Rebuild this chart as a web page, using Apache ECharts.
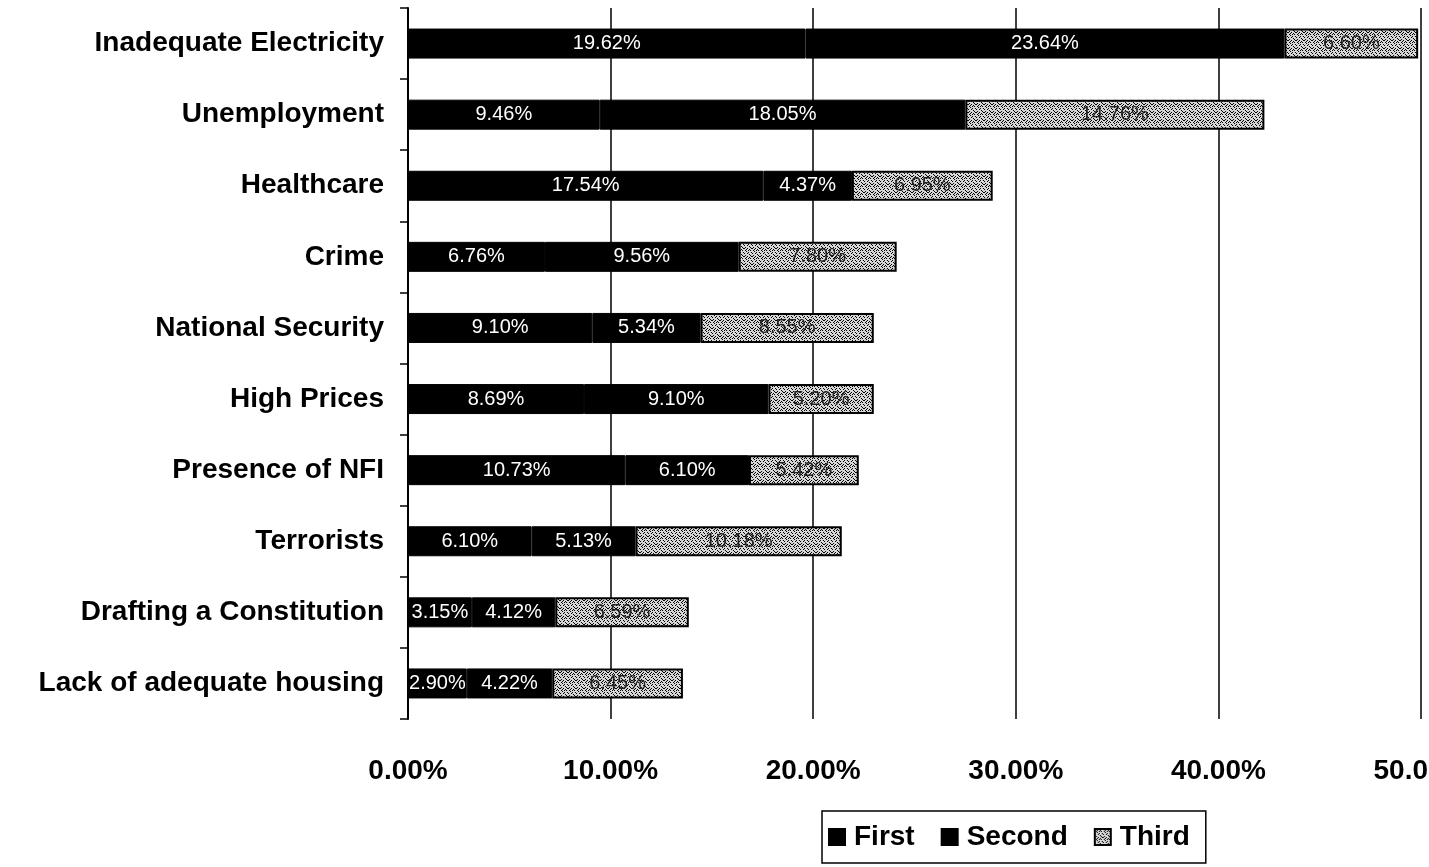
<!DOCTYPE html>
<html>
<head>
<meta charset="utf-8">
<script src="https://cdn.jsdelivr.net/npm/echarts@6/dist/echarts.min.js"></script>
<style>
html,body{margin:0;padding:0;background:#fff;}
#chart{width:1429px;height:867px;}
</style>
</head>
<body>
<div id="chart"></div>
<script>
// ---- data ----
var categories = ["Inadequate Electricity","Unemployment","Healthcare","Crime","National Security","High Prices","Presence of NFI","Terrorists","Drafting a Constitution","Lack of adequate housing"];
var firstValues  = [19.62, 9.46, 17.54, 6.76, 9.10, 8.69, 10.73, 6.10, 3.15, 2.90];
var secondValues = [23.64, 18.05, 4.37, 9.56, 5.34, 9.10, 6.10, 5.13, 4.12, 4.22];
var thirdValues  = [6.60, 14.76, 6.95, 7.80, 8.55, 5.20, 5.42, 10.18, 6.59, 6.45];
var xTicks = [0, 10, 20, 30, 40, 50];
var seriesNames = ["First", "Second", "Third"];

// speckled texture for the third series (fixed pattern)
var pat = document.createElement('canvas');
pat.width = 8; pat.height = 8;
var pctx = pat.getContext('2d');
pctx.fillStyle = '#d6d6d6';
pctx.fillRect(0, 0, 8, 8);
pctx.fillStyle = '#000';
var dots = [[0,0],[3,0],[5,1],[1,2],[6,2],[2,3],[4,4],[7,4],[0,5],[3,5],[5,6],[1,7],[6,7],[2,1],[7,0],[4,2]];
dots.forEach(function(d){ pctx.fillRect(d[0], d[1], 1, 1); });

var chart = echarts.init(document.getElementById('chart'), null, {renderer: 'canvas'});
var fmt = function(p){ return p.value.toFixed(2) + '%'; };
var labelBase = {show: true, position: 'inside', fontSize: 20, fontFamily: 'Liberation Sans, Arial, sans-serif'};

chart.setOption({
  animation: false,
  backgroundColor: '#ffffff',
  grid: {left: 408, right: 8, top: 8, bottom: 148, containLabel: false, outerBoundsMode: 'none'},
  legend: {
    data: seriesNames,
    left: 822, top: 811,
    orient: 'horizontal',
    icon: 'rect',
    itemWidth: 16, itemHeight: 16, itemGap: 26,
    borderColor: '#000', borderWidth: 1.5,
    padding: [12, 16, 12, 6],
    textStyle: {fontSize: 28, fontWeight: 'bold', color: '#000', fontFamily: 'Liberation Sans, Arial, sans-serif', padding: [0,0,0,4]}
  },
  xAxis: {
    type: 'value',
    min: xTicks[0], max: xTicks[xTicks.length - 1], interval: 10,
    axisLine: {show: false},
    axisTick: {show: false},
    splitLine: {show: true, lineStyle: {color: '#000', width: 1.5}},
    axisLabel: {
      formatter: function(v){ return v.toFixed(2) + '%'; },
      fontSize: 28, fontWeight: 'bold', color: '#000', margin: 38,
      fontFamily: 'Liberation Sans, Arial, sans-serif'
    }
  },
  yAxis: {
    type: 'category',
    data: categories,
    inverse: true,
    axisLine: {show: true, lineStyle: {color: '#000', width: 2}},
    axisTick: {show: true, length: 8, lineStyle: {color: '#000', width: 1.5}},
    axisLabel: {fontSize: 28, fontWeight: 'bold', color: '#000', margin: 24, fontFamily: 'Liberation Sans, Arial, sans-serif'}
  },
  series: [
    {
      name: seriesNames[0], type: 'bar', stack: 'total', barWidth: 30,
      data: firstValues,
      itemStyle: {color: '#000', borderColor: '#000', borderWidth: 1},
      label: Object.assign({}, labelBase, {color: '#fff', formatter: fmt})
    },
    {
      name: seriesNames[1], type: 'bar', stack: 'total', barWidth: 30,
      data: secondValues,
      itemStyle: {color: '#000', borderColor: '#000', borderWidth: 1},
      label: Object.assign({}, labelBase, {color: '#fff', formatter: fmt})
    },
    {
      name: seriesNames[2], type: 'bar', stack: 'total', barWidth: 30,
      data: thirdValues,
      itemStyle: {color: {image: pat, repeat: 'repeat'}, borderColor: '#000', borderWidth: 2},
      label: Object.assign({}, labelBase, {color: '#222', formatter: fmt})
    }
  ]
});
</script>
</body>
</html>
